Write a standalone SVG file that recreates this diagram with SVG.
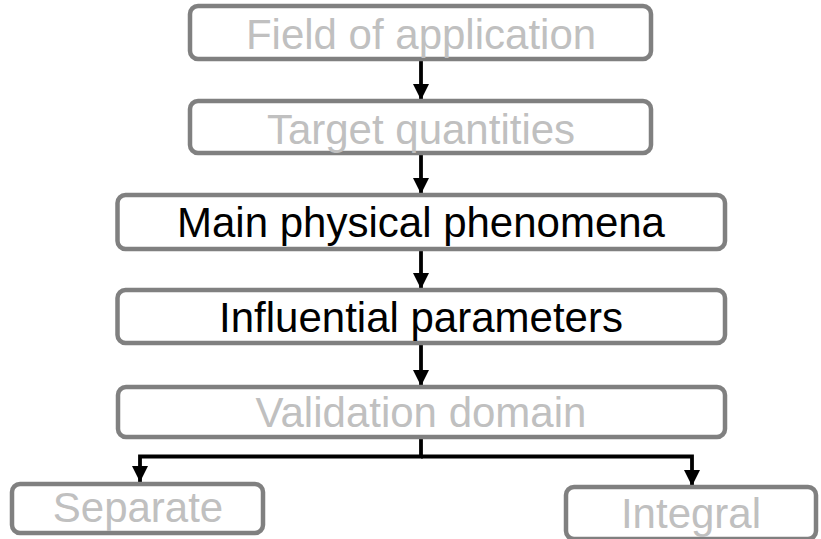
<svg xmlns="http://www.w3.org/2000/svg" width="821" height="539" viewBox="0 0 821 539">
<style>
.box{fill:#fff;stroke:#808080;stroke-width:4.5}
.t{font-family:"Liberation Sans",Arial,sans-serif;font-size:42px;text-anchor:middle}
.g{fill:#c0c0c0}
.k{fill:#000}
.c{fill:none;stroke:#000;stroke-width:3.8}
</style>
<defs>
<marker id="ah" viewBox="0 0 10 10" refX="10" refY="5" markerWidth="4.2" markerHeight="4.4" orient="auto" markerUnits="strokeWidth">
<path d="M0,0 L10,5 L0,10 z" fill="#000"/>
</marker>
</defs>
<rect width="821" height="539" fill="#fff"/>
<g id="connectors">
<line class="c" x1="421" y1="61" x2="421" y2="100" marker-end="url(#ah)"/>
<line class="c" x1="421" y1="155" x2="421" y2="194" marker-end="url(#ah)"/>
<line class="c" x1="421" y1="251" x2="421" y2="289" marker-end="url(#ah)"/>
<line class="c" x1="421" y1="345" x2="421" y2="386" marker-end="url(#ah)"/>
<polyline class="c" points="421,439 421,456.5 140,456.5 140,482" marker-end="url(#ah)"/>
<polyline class="c" points="421,456.5 692,456.5 692,486" marker-end="url(#ah)"/>
</g>
<g id="field">
<rect class="box" x="190" y="6" width="461" height="53" rx="8"/>
<text class="t g" x="421" y="49">Field of application</text>
</g>
<g id="target">
<rect class="box" x="190" y="101" width="461" height="52" rx="8"/>
<text class="t g" x="421" y="144">Target quantities</text>
</g>
<g id="main">
<rect class="box" x="117.5" y="195" width="607.5" height="54" rx="8"/>
<text class="t k" x="421" y="237">Main physical phenomena</text>
</g>
<g id="influential">
<rect class="box" x="117.5" y="290" width="607.5" height="53" rx="8"/>
<text class="t k" x="421" y="332">Influential parameters</text>
</g>
<g id="validation">
<rect class="box" x="118" y="387" width="607" height="50" rx="8"/>
<text class="t g" x="421" y="427">Validation domain</text>
</g>
<g id="separate">
<rect class="box" x="12" y="484" width="251" height="49" rx="8"/>
<text class="t g" x="138" y="522">Separate</text>
</g>
<g id="integral">
<rect class="box" x="566" y="487" width="250" height="52" rx="8"/>
<text class="t g" x="691" y="528">Integral</text>
</g>
</svg>
